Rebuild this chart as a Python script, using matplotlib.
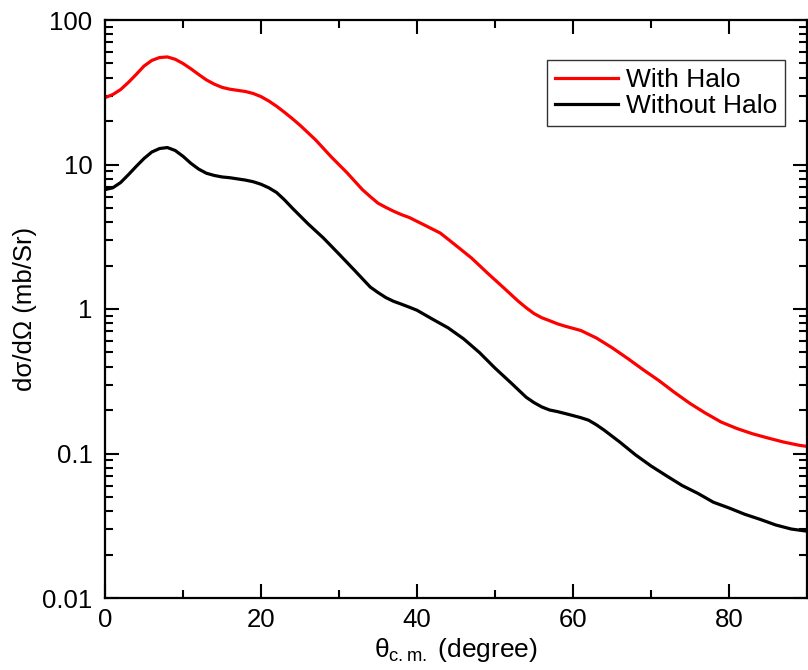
import numpy as np
import matplotlib.pyplot as plt
from matplotlib.ticker import LogLocator, MultipleLocator, NullFormatter, FixedFormatter, FixedLocator

plt.rcParams['font.family'] = ['Liberation Sans', 'DejaVu Sans']
plt.rcParams['mathtext.fontset'] = 'custom'
plt.rcParams['mathtext.rm'] = 'Liberation Sans'
plt.rcParams['mathtext.it'] = 'Liberation Sans'

# values
theta_halo = [0, 1, 2, 3, 4, 5, 6, 7, 8, 9, 10, 11, 12, 13, 14, 15, 16, 17, 18, 19, 20,
              21, 22, 23, 24, 25, 27, 29, 31, 33, 34, 35, 36, 37, 38, 39, 41, 43, 45, 47,
              49, 51, 53, 54, 55, 56, 57, 58, 59, 60, 61, 63, 65, 67, 69, 71, 73, 75, 77,
              79, 81, 83, 85, 87, 89, 90]
xs_halo = [29, 30.5, 33, 37, 42, 48, 52.5, 55, 55.5, 53.5, 50, 46, 42, 38.5, 36, 34.2,
           33.2, 32.6, 32, 31, 29.5, 27.5, 25.3, 23, 20.8, 18.7, 14.8, 11.3, 8.8, 6.7,
           6.0, 5.4, 5.05, 4.75, 4.5, 4.3, 3.8, 3.35, 2.75, 2.25, 1.78, 1.42, 1.13, 1.02,
           0.93, 0.87, 0.83, 0.79, 0.76, 0.735, 0.71, 0.63, 0.54, 0.455, 0.38, 0.32, 0.265,
           0.222, 0.19, 0.165, 0.149, 0.137, 0.128, 0.12, 0.114, 0.112]

theta_nohalo = [0, 1, 2, 3, 4, 5, 6, 7, 8, 9, 10, 11, 12, 13, 14, 15, 16, 17, 18, 19, 20,
                21, 22, 23, 24, 26, 28, 30, 32, 34, 35, 36, 37, 38, 39, 40, 42, 44, 46, 48,
                50, 52, 54, 55, 56, 57, 58, 59, 60, 61, 62, 63, 64, 66, 68, 70, 72, 74, 76,
                78, 80, 82, 84, 86, 88, 90]
xs_nohalo = [6.7, 6.9, 7.5, 8.5, 9.7, 11, 12.2, 12.9, 13.1, 12.5, 11.4, 10.2, 9.3, 8.7,
             8.4, 8.2, 8.1, 7.95, 7.8, 7.6, 7.3, 6.9, 6.4, 5.7, 5.0, 3.9, 3.1, 2.4, 1.85,
             1.42, 1.3, 1.2, 1.13, 1.08, 1.03, 0.98, 0.85, 0.74, 0.62, 0.5, 0.39, 0.31,
             0.245, 0.225, 0.21, 0.2, 0.195, 0.189, 0.183, 0.177, 0.17, 0.158, 0.145, 0.12,
             0.098, 0.082, 0.07, 0.06, 0.053, 0.046, 0.042, 0.038, 0.035, 0.032, 0.030, 0.029]

y_ticks = [0.01, 0.1, 1, 10, 100]
y_labels = ['0.01', '0.1', '1', '10', '100']

fig = plt.figure(figsize=(8.08, 6.7), dpi=100)
ax = fig.add_axes([105 / 808, 72 / 670, 702 / 808, 578 / 670])

ax.plot(theta_halo, xs_halo, color='#ff0000', lw=2.3, label='With Halo',
        solid_joinstyle='round')
ax.plot(theta_nohalo, xs_nohalo, color='black', lw=2.3, label='Without Halo',
        solid_joinstyle='round')

ax.set_yscale('log')
ax.set_xlim(0, 90)
ax.set_ylim(0.01, 100)

ax.xaxis.set_major_locator(MultipleLocator(20))
ax.xaxis.set_minor_locator(MultipleLocator(10))
ax.yaxis.set_major_locator(FixedLocator(y_ticks))
ax.yaxis.set_major_formatter(FixedFormatter(y_labels))
ax.yaxis.set_minor_locator(LogLocator(base=10, subs=np.arange(2, 10)))
ax.yaxis.set_minor_formatter(NullFormatter())

ax.tick_params(which='both', direction='in', top=True, right=True, width=1.5, labelsize=18.5)
ax.tick_params(which='major', length=10)
ax.tick_params(which='minor', length=6)
ax.tick_params(axis='x', pad=7)
ax.tick_params(axis='y', pad=9)
for s in ax.spines.values():
    s.set_linewidth(1.6)

ax.set_xlabel(r'$\theta_{\rm c.m.}$ (degree)', fontsize=19, labelpad=3)
ax.set_ylabel('dσ/dΩ (mb/Sr)', fontsize=18.5, labelpad=4)

leg = ax.legend(loc='upper right', bbox_to_anchor=(0.969, 0.931), fontsize=19, fancybox=False,
                edgecolor='#333333', framealpha=1, handlelength=2.4, borderpad=0.3,
                labelspacing=0.1, handletextpad=0.3, borderaxespad=0)
leg.get_frame().set_linewidth(1.0)

fig.savefig('out.png', dpi=100)
